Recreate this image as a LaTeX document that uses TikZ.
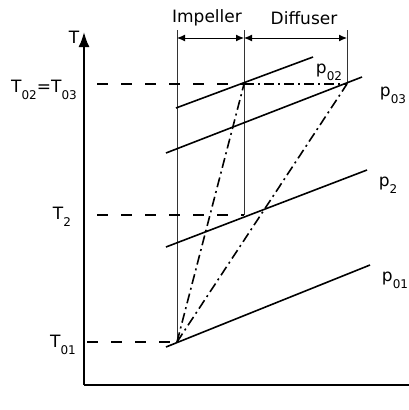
\documentclass[tikz,border=0pt]{standalone}
\usepackage{fontspec}
\setmainfont{DejaVu Sans}
\usetikzlibrary{arrows.meta}
\newcommand\mysub[1]{\raisebox{-0.4em}{\fontsize{12}{12}\selectfont #1}}
\begin{document}
\begin{tikzpicture}[x=1pt,y=-1pt,
  lbl/.style={inner sep=0pt,font=\fontsize{17}{19}\selectfont},
  axisline/.style={line width=2pt},
  isobar/.style={line width=1.6pt},
  thin/.style={line width=0.9pt,draw=black!80},
  dashh/.style={line width=1.6pt,dash pattern=on 11pt off 13pt},
  dashdot/.style={line width=1.6pt,dash pattern=on 10pt off 4pt on 2pt off 4pt},
  dimarrow/.style={line width=1pt,{Latex[length=8pt,width=7pt]}-{Latex[length=8pt,width=7pt]}}]
\useasboundingbox (0,0) rectangle (409,410);
% axes
\coordinate (O) at (84,385);
\coordinate (Ytop) at (84,32);
\coordinate (Xend) at (409,385);
\draw[axisline,-{Latex[length=15pt,width=11pt]}] (O) -- (Ytop);
\draw[axisline] (O) -- (Xend);
\node[lbl] (T) at (74,37) {T};
% key points
\coordinate (s1) at (177,342);
\coordinate (s2) at (244,215);
\coordinate (s02) at (244,84);
\coordinate (s03) at (347,84);
\coordinate (a1) at (177,30);
\coordinate (a2) at (244,30);
\coordinate (a3) at (347,30);
\coordinate (d1) at (177,38);
\coordinate (d2) at (244,38);
\coordinate (d3) at (347,38);
% thin verticals
\draw[thin] (a1) -- (s1);
\draw[thin] (a2) -- (s2);
\draw[thin] (a3) -- (s03);
% dimension arrows
\draw[dimarrow] (d1) -- (d2);
\draw[dimarrow] (d2) -- (d3);
\node[lbl] (imp) at (207,18) {Impeller};
\node[lbl] (dif) at (304,18) {Diffuser};
% dashed levels
\coordinate (l03) at (97,84);
\coordinate (l2) at (97,215);
\coordinate (l01) at (87,342);
\draw[dashh] (l03) -- (s02);
\draw[dashh] (l2) -- (s2);
\draw[dashh] (l01) -- (s1);
\draw[dashdot] (s02) -- (s03);
% isobars
\coordinate (p02a) at (176,108); \coordinate (p02b) at (313,57);
\coordinate (p03a) at (166,153); \coordinate (p03b) at (362,77);
\coordinate (p2a) at (166,247);  \coordinate (p2b) at (367,170);
\coordinate (p01a) at (166,347); \coordinate (p01b) at (370,265);
\draw[isobar] (p02a) -- (p02b);
\draw[isobar] (p03a) -- (p03b);
\draw[isobar] (p2a) -- (p2b);
\draw[isobar] (p01a) -- (p01b);
% processes
\draw[dashdot] (s1) -- (s02);
\draw[dashdot] (s1) -- (s03);
% labels
\node[lbl] (Lp02) at (329,72) {p\mysub{02}};
\node[lbl] (Lp03) at (393,95) {p\mysub{03}};
\node[lbl] (Lp2) at (388,185) {p\mysub{2}};
\node[lbl] (Lp01) at (395,280) {p\mysub{01}};
\node[lbl] (LT03) at (44,90) {T\mysub{02}=T\mysub{03}};
\node[lbl] (LT2) at (62,217) {T\mysub{2}};
\node[lbl] (LT01) at (63,345) {T\mysub{01}};
\end{tikzpicture}
\end{document}
